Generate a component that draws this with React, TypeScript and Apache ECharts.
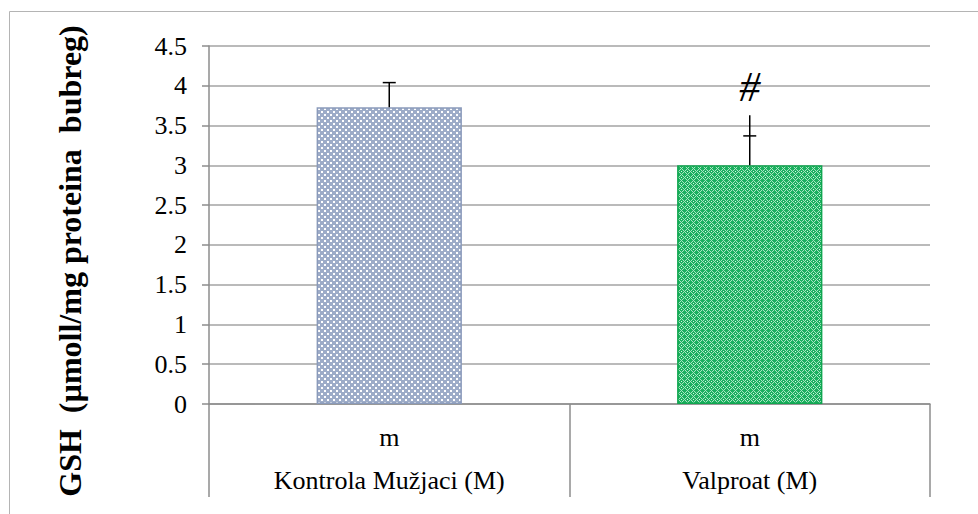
import React, { useEffect, useRef } from "react";
import * as echarts from "echarts";

const categories = ["Kontrola Mužjaci (M)", "Valproat (M)"];
const subLabels = ["m", "m"];
const means = [3.73, 3.0];
const errorLineTop = [4.04, 3.63];
const errorCap = [4.04, 3.37];
const marks = ["", "#"];
const markValue = [0, 3.98];
const yMin = 0;
const yMax = 4.5;
const yStep = 0.5;

function makeChecker(): HTMLCanvasElement {
  const c = document.createElement("canvas");
  c.width = 6;
  c.height = 6;
  const ctx = c.getContext("2d")!;
  ctx.fillStyle = "#9dacc8";
  ctx.fillRect(0, 0, 6, 6);
  ctx.fillStyle = "#ffffff";
  ctx.fillRect(0, 0, 2, 2);
  ctx.fillRect(3, 3, 2, 2);
  return c;
}

function makeGreen(): HTMLCanvasElement {
  const c = document.createElement("canvas");
  c.width = 6;
  c.height = 6;
  const ctx = c.getContext("2d")!;
  ctx.fillStyle = "#1cb060";
  ctx.fillRect(0, 0, 6, 6);
  ctx.fillStyle = "#a8e6c2";
  for (let y = 0; y < 6; y++)
    for (let x = 0; x < 6; x++) {
      const d = Math.abs(x - 3) + Math.abs(y - 3);
      if (d === 3) ctx.fillRect(x, y, 1, 1);
    }
  ctx.fillStyle = "#d8f3e3";
  ctx.fillRect(3, 3, 1, 1);
  return c;
}

export default function App() {
  const ref = useRef<HTMLDivElement>(null);
  useEffect(() => {
    if (!ref.current) return;
    const chart = echarts.init(ref.current, null, { renderer: "svg" });
    const fills = [
      { image: makeChecker(), repeat: "repeat", imageWidth: 6, imageHeight: 6 },
      { image: makeGreen(), repeat: "repeat", imageWidth: 6, imageHeight: 6 },
    ];
    const borders = ["#8a9aba", "#10a650"];
    const serif = "'Liberation Serif', 'Times New Roman', serif";
    chart.setOption({
      animation: false,
      grid: { left: 209, right: 48, top: 46, bottom: 110, containLabel: false },
      graphic: [
        {
          type: "rect",
          shape: { x: 9.5, y: 11.5, width: 980, height: 520 },
          style: { fill: "none", stroke: "#b4b4b4", lineWidth: 1 },
          silent: true,
        },
        {
          type: "text",
          x: 70,
          y: 261,
          rotation: Math.PI / 2,
          style: {
            text: "GSH  (µmoll/mg proteina  bubreg)",
            font: `bold 32px ${serif}`,
            fill: "#000",
            align: "center",
            verticalAlign: "middle",
          },
        },
      ],
      xAxis: {
        type: "category",
        data: categories,
        axisLine: { show: true, lineStyle: { color: "#8c8c8c", width: 1.5 } },
        axisTick: {
          show: true,
          length: 93,
          alignWithLabel: false,
          interval: 0,
          lineStyle: { color: "#8c8c8c", width: 1.5 },
        },
        axisLabel: {
          interval: 0,
          formatter: (v: string, i: number) => `${subLabels[i]}\n${v}`,
          fontFamily: serif,
          fontSize: 26,
          color: "#000",
          lineHeight: 43,
          margin: 12,
        },
        splitLine: { show: false },
      },
      yAxis: {
        type: "value",
        min: yMin,
        max: yMax,
        interval: yStep,
        axisLine: { show: true, lineStyle: { color: "#8c8c8c", width: 1.5 } },
        axisTick: { show: true, inside: false, length: 7, lineStyle: { color: "#8c8c8c", width: 1.5 } },
        axisLabel: { fontFamily: serif, fontSize: 26, color: "#000", margin: 22 },
        splitLine: { show: true, lineStyle: { color: "#a3a3a3", width: 1.5 } },
      },
      series: [
        {
          type: "bar",
          barWidth: "40.3%",
          data: means.map((v, i) => ({
            value: v,
            itemStyle: { color: fills[i], borderColor: borders[i], borderWidth: 1.5 },
          })),
        },
        {
          type: "custom",
          z: 5,
          data: categories.map((_, i) => [i, means[i], errorLineTop[i], errorCap[i], markValue[i]]),
          renderItem: (params: any, api: any) => {
            const i = api.value(0);
            const base = api.coord([i, api.value(1)]);
            const top = api.coord([i, api.value(2)]);
            const cap = api.coord([i, api.value(3)]);
            const half = 6.5;
            const children: any[] = [
              {
                type: "line",
                shape: { x1: base[0], y1: base[1], x2: top[0], y2: top[1] },
                style: { stroke: "#000", lineWidth: 1.5 },
              },
              {
                type: "line",
                shape: { x1: cap[0] - half, y1: cap[1], x2: cap[0] + half, y2: cap[1] },
                style: { stroke: "#000", lineWidth: 1.5 },
              },
            ];
            if (marks[i]) {
              const mp = api.coord([i, api.value(4)]);
              children.push({
                type: "text",
                x: mp[0],
                y: mp[1],
                style: {
                  text: marks[i],
                  font: `italic 42px ${serif}`,
                  fill: "#000",
                  align: "center",
                  verticalAlign: "middle",
                },
              });
            }
            return { type: "group", children };
          },
        },
      ],
    });
    return () => chart.dispose();
  }, []);
  return (
    <div
      ref={ref}
      style={{ position: "fixed", left: 0, top: 0, width: 978, height: 514, background: "#fff" }}
    />
  );
}
